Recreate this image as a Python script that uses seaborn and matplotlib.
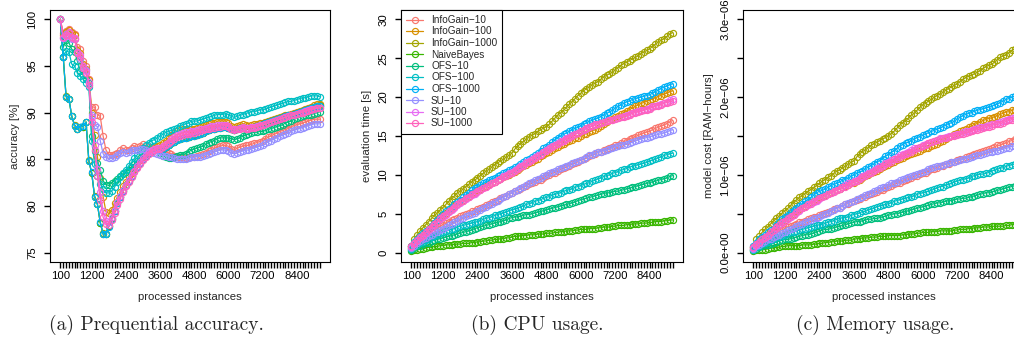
import matplotlib
matplotlib.use("Agg")
import matplotlib.pyplot as plt
import seaborn as sns
from matplotlib import font_manager as fm

# ---------------- data ----------------
X = list(range(100, 9300, 100))          # processed instances
XTICK_SHOWN = [100, 1200, 2400, 3600, 4800, 6000, 7200, 8400]

METHODS = ["InfoGain\u221210", "InfoGain\u2212100", "InfoGain\u22121000", "NaiveBayes",
           "OFS\u221210", "OFS\u2212100", "OFS\u22121000", "SU\u221210", "SU\u2212100", "SU\u22121000"]
COLORS = ["#F8766D", "#D89000", "#A3A500", "#39B600", "#00BF7D",
          "#00BFC4", "#00B0F6", "#9590FF", "#E76BF3", "#FF62BC"]

# (a) prequential accuracy [%]
ACC_IG10 = [100.0, 98.5, 98.8, 99.0, 98.6, 98.4, 97.0, 96.8, 95.5, 95.0,
            93.6, 90.6, 90.6, 89.8, 89.6, 87.5, 86.0, 85.5, 85.5, 85.6,
            85.7, 86.0, 86.2, 86.0, 86.0, 86.2, 86.4, 86.3, 86.4, 86.6,
            86.4, 86.3, 86.2, 86.2, 86.1, 86.0, 85.9, 85.8, 85.7, 85.6,
            85.4, 85.3, 85.2, 85.2, 85.1, 85.2, 85.3, 85.3, 85.4, 85.5,
            85.6, 85.7, 85.9, 86.0, 86.2, 86.3, 86.4, 86.5, 86.5, 86.4,
            86.1, 86.0, 86.2, 86.3, 86.4, 86.5, 86.5, 86.6, 86.7, 86.8,
            86.9, 87.0, 87.2, 87.4, 87.5, 87.7, 87.8, 88.0, 88.1, 88.2,
            88.3, 88.5, 88.6, 88.7, 88.8, 88.9, 89.0, 89.1, 89.2, 89.3,
            89.3, 89.3]
ACC_IG100 = [100.0, 98.3, 98.6, 98.9, 98.5, 98.3, 96.7, 96.4, 95.2, 94.7,
             93.5, 90.0, 87.6, 85.3, 83.0, 81.0, 79.4, 79.2, 79.6, 80.3,
             80.9, 81.5, 82.1, 82.6, 83.1, 83.5, 84.0, 84.5, 84.9, 85.3,
             85.7, 86.1, 86.3, 86.4, 86.4, 86.5, 86.7, 87.0, 87.3, 87.6,
             87.8, 88.0, 88.1, 88.2, 88.3, 88.3, 88.3, 88.3, 88.4, 88.5,
             88.6, 88.7, 88.8, 88.9, 88.9, 89.0, 89.0, 89.0, 89.0, 88.9,
             88.6, 88.5, 88.6, 88.7, 88.8, 88.7, 88.6, 88.7, 88.8, 88.8,
             88.9, 88.9, 89.0, 89.1, 89.2, 89.3, 89.4, 89.5, 89.6, 89.7,
             89.8, 89.9, 90.0, 90.1, 90.2, 90.3, 90.4, 90.5, 90.6, 90.8,
             90.9, 90.9]
ACC_IG1000 = [100.0, 96.0, 91.8, 91.5, 89.6, 88.7, 88.3, 88.5, 88.5, 89.0,
              84.9, 83.5, 81.1, 80.2, 78.2, 77.1, 77.0, 77.9, 78.7, 79.5,
              80.3, 81.0, 81.7, 82.2, 82.7, 83.2, 83.7, 84.2, 84.6, 85.0,
              85.4, 85.7, 85.9, 86.0, 86.1, 86.0, 86.1, 86.3, 86.5, 86.7,
              86.9, 87.1, 87.2, 87.3, 87.4, 87.4, 87.5, 87.6, 87.6, 87.7,
              87.8, 88.0, 88.1, 88.2, 88.3, 88.4, 88.5, 88.5, 88.5, 88.4,
              88.2, 88.1, 88.3, 88.4, 88.4, 88.3, 88.3, 88.4, 88.5, 88.6,
              88.7, 88.8, 88.9, 89.0, 89.1, 89.2, 89.3, 89.4, 89.5, 89.6,
              89.7, 89.8, 89.9, 90.0, 90.1, 90.2, 90.3, 90.4, 90.5, 90.6,
              90.7, 90.8]
ACC_NB = [100.0, 96.0, 91.7, 91.5, 89.6, 88.6, 88.3, 88.5, 88.5, 89.0,
          84.8, 83.5, 81.0, 80.2, 78.2, 77.0, 77.0, 77.9, 78.6, 79.5,
          80.3, 81.0, 81.6, 82.2, 82.7, 83.2, 83.7, 84.2, 84.6, 85.0,
          85.4, 85.7, 85.9, 86.0, 86.0, 86.0, 86.1, 86.3, 86.5, 86.7,
          86.9, 87.1, 87.2, 87.3, 87.3, 87.4, 87.5, 87.5, 87.6, 87.7,
          87.8, 88.0, 88.1, 88.2, 88.3, 88.4, 88.4, 88.5, 88.5, 88.4,
          88.2, 88.1, 88.3, 88.4, 88.4, 88.3, 88.3, 88.4, 88.5, 88.6,
          88.7, 88.8, 88.9, 89.0, 89.1, 89.2, 89.3, 89.4, 89.5, 89.6,
          89.7, 89.8, 89.9, 90.0, 90.1, 90.2, 90.3, 90.4, 90.5, 90.6,
          90.7, 90.7]
ACC_OFS10 = [100.0, 97.0, 97.8, 97.5, 96.8, 96.5, 95.5, 94.5, 94.0, 93.6,
             93.2, 87.5, 85.9, 84.6, 83.9, 82.7, 82.3, 82.2, 82.5, 82.7,
             82.9, 83.2, 83.4, 83.6, 83.9, 84.2, 84.5, 84.8, 85.1, 85.4,
             85.6, 85.8, 85.9, 86.0, 86.0, 85.7, 85.4, 85.2, 85.1, 85.1,
             85.2, 85.4, 85.5, 85.5, 85.6, 85.8, 86.0, 86.1, 86.2, 86.3,
             86.4, 86.6, 86.8, 86.9, 87.0, 87.2, 87.3, 87.3, 87.3, 87.3,
             87.2, 87.1, 87.2, 87.3, 87.5, 87.6, 87.7, 87.8, 87.9, 87.9,
             88.0, 88.0, 88.1, 88.2, 88.3, 88.4, 88.5, 88.6, 88.7, 88.9,
             89.0, 89.1, 89.3, 89.4, 89.5, 89.6, 89.7, 89.7, 89.8, 89.9,
             90.0, 90.1]
ACC_OFS100 = [100.0, 96.0, 96.6, 96.5, 95.2, 95.0, 94.2, 93.9, 93.6, 93.2,
              92.8, 87.0, 84.5, 83.2, 82.4, 81.8, 81.4, 81.4, 81.6, 82.0,
              82.6, 83.1, 83.5, 83.9, 84.3, 84.7, 85.1, 85.5, 85.9, 86.2,
              86.5, 86.8, 87.0, 87.1, 87.3, 87.5, 87.7, 87.9, 88.0, 88.1,
              88.2, 88.4, 88.6, 88.7, 88.8, 88.9, 89.1, 89.1, 89.1, 89.2,
              89.3, 89.4, 89.5, 89.6, 89.7, 89.8, 89.8, 89.8, 89.9, 89.8,
              89.6, 89.5, 89.6, 89.7, 89.8, 89.9, 90.0, 90.1, 90.1, 90.2,
              90.3, 90.3, 90.4, 90.5, 90.6, 90.7, 90.8, 90.9, 91.0, 91.1,
              91.2, 91.2, 91.3, 91.4, 91.5, 91.6, 91.6, 91.7, 91.8, 91.8,
              91.8, 91.7]
ACC_OFS1000 = [100.0, 96.0, 91.7, 91.5, 89.6, 88.6, 88.3, 88.5, 88.6, 89.0,
               84.8, 83.6, 81.0, 80.2, 78.3, 77.0, 77.0, 77.8, 78.6, 79.5,
               80.3, 81.0, 81.6, 82.2, 82.7, 83.2, 83.7, 84.2, 84.6, 85.0,
               85.4, 85.7, 85.9, 86.0, 86.0, 86.0, 86.1, 86.3, 86.5, 86.8,
               86.9, 87.1, 87.2, 87.3, 87.3, 87.4, 87.5, 87.5, 87.6, 87.7,
               87.8, 88.0, 88.1, 88.2, 88.3, 88.4, 88.4, 88.5, 88.5, 88.4,
               88.2, 88.1, 88.3, 88.4, 88.4, 88.3, 88.3, 88.4, 88.5, 88.6,
               88.7, 88.8, 88.9, 89.0, 89.1, 89.2, 89.3, 89.4, 89.5, 89.6,
               89.7, 89.8, 89.9, 90.0, 90.1, 90.2, 90.3, 90.4, 90.5, 90.6,
               90.7, 90.7]
ACC_SU10 = [100.0, 98.0, 98.4, 98.2, 97.9, 97.9, 96.5, 95.8, 94.8, 94.6,
            93.0, 89.8, 88.7, 88.5, 87.0, 85.6, 85.2, 85.1, 85.1, 85.3,
            85.5, 85.7, 85.8, 85.7, 85.8, 86.0, 86.0, 86.0, 86.1, 86.1,
            86.0, 85.9, 85.8, 85.7, 85.6, 85.5, 85.4, 85.4, 85.3, 85.2,
            85.1, 85.0, 85.0, 85.0, 85.0, 85.1, 85.2, 85.2, 85.3, 85.3,
            85.4, 85.5, 85.6, 85.7, 85.8, 85.9, 86.0, 86.0, 86.0, 85.9,
            85.7, 85.6, 85.7, 85.8, 85.9, 86.0, 86.0, 86.1, 86.2, 86.3,
            86.4, 86.5, 86.7, 86.9, 87.0, 87.2, 87.3, 87.5, 87.6, 87.7,
            87.8, 88.0, 88.1, 88.2, 88.3, 88.4, 88.5, 88.6, 88.7, 88.8,
            88.8, 88.8]
ACC_SU100 = [100.0, 98.0, 98.2, 98.6, 98.0, 98.0, 96.5, 96.2, 95.0, 94.5,
             93.3, 89.5, 86.5, 84.0, 81.5, 79.5, 78.4, 78.3, 78.8, 79.6,
             80.4, 81.1, 81.7, 82.3, 82.8, 83.3, 83.8, 84.3, 84.7, 85.1,
             85.5, 85.8, 86.0, 86.1, 86.2, 86.2, 86.4, 86.6, 86.9, 87.2,
             87.4, 87.6, 87.7, 87.8, 87.9, 87.9, 88.0, 88.0, 88.1, 88.2,
             88.3, 88.4, 88.5, 88.6, 88.6, 88.7, 88.7, 88.7, 88.7, 88.6,
             88.3, 88.2, 88.3, 88.4, 88.5, 88.4, 88.4, 88.5, 88.5, 88.6,
             88.7, 88.7, 88.8, 88.9, 89.0, 89.1, 89.2, 89.3, 89.4, 89.5,
             89.6, 89.7, 89.8, 89.9, 90.0, 90.1, 90.2, 90.3, 90.4, 90.4,
             90.5, 90.5]
ACC_SU1000 = [100.0, 98.1, 98.3, 98.5, 98.1, 97.9, 96.4, 96.0, 94.8, 94.3,
              93.0, 89.0, 86.0, 83.2, 80.6, 78.8, 78.1, 78.0, 78.5, 79.3,
              80.1, 80.8, 81.5, 82.1, 82.6, 83.1, 83.6, 84.1, 84.5, 84.9,
              85.3, 85.6, 85.8, 86.0, 86.1, 86.1, 86.3, 86.5, 86.8, 87.0,
              87.2, 87.4, 87.5, 87.6, 87.7, 87.7, 87.8, 87.8, 87.9, 88.0,
              88.1, 88.2, 88.3, 88.4, 88.4, 88.5, 88.5, 88.6, 88.6, 88.5,
              88.2, 88.1, 88.2, 88.3, 88.4, 88.3, 88.3, 88.4, 88.4, 88.5,
              88.6, 88.7, 88.8, 88.9, 89.0, 89.1, 89.2, 89.3, 89.4, 89.5,
              89.6, 89.7, 89.8, 89.9, 90.0, 90.0, 90.1, 90.2, 90.3, 90.4,
              90.5, 90.5]

# (b) evaluation time [s]
TIME_IG10 = [0.6, 1.0, 1.3, 1.6, 1.9, 2.2, 2.4, 2.7, 2.9, 3.1,
             3.4, 3.6, 3.8, 4.0, 4.2, 4.3, 4.5, 4.7, 4.8, 5.0,
             5.1, 5.3, 5.4, 5.6, 5.8, 5.9, 6.1, 6.3, 6.5, 6.7,
             6.8, 7.0, 7.2, 7.3, 7.5, 7.7, 7.9, 8.0, 8.2, 8.4,
             8.6, 8.8, 8.9, 9.1, 9.3, 9.4, 9.6, 9.8, 10.0, 10.2,
             10.3, 10.5, 10.7, 10.9, 11.0, 11.2, 11.4, 11.5, 11.7, 11.9,
             12.0, 12.2, 12.4, 12.5, 12.7, 12.9, 13.0, 13.2, 13.3, 13.5,
             13.6, 13.8, 13.9, 14.1, 14.3, 14.4, 14.6, 14.8, 14.9, 15.1,
             15.2, 15.4, 15.5, 15.6, 15.8, 16.0, 16.1, 16.3, 16.4, 16.6,
             16.8, 17.0]
TIME_IG100 = [0.8, 1.2, 1.6, 2.0, 2.3, 2.6, 3.0, 3.4, 3.8, 4.1,
              4.5, 4.8, 5.1, 5.4, 5.7, 6.0, 6.3, 6.6, 6.8, 7.0,
              7.3, 7.5, 7.8, 8.0, 8.2, 8.4, 8.6, 8.8, 8.9, 9.1,
              9.3, 9.5, 9.7, 9.8, 10.0, 10.2, 10.4, 10.6, 10.9, 11.1,
              11.3, 11.5, 11.7, 11.9, 12.1, 12.4, 12.6, 12.8, 13.0, 13.2,
              13.4, 13.6, 13.8, 14.0, 14.2, 14.3, 14.5, 14.7, 14.8, 15.0,
              15.2, 15.3, 15.5, 15.7, 15.8, 16.0, 16.3, 16.5, 16.8, 17.0,
              17.2, 17.4, 17.6, 17.8, 18.0, 18.2, 18.4, 18.6, 18.8, 19.0,
              19.2, 19.3, 19.5, 19.6, 19.8, 19.9, 20.1, 20.2, 20.4, 20.5,
              20.7, 20.8]
TIME_IG1000 = [0.8, 1.8, 2.3, 2.8, 3.2, 3.6, 4.0, 4.4, 4.8, 5.1,
               5.5, 5.8, 6.2, 6.6, 6.9, 7.3, 7.7, 7.9, 8.2, 8.5,
               8.8, 9.1, 9.3, 9.6, 9.9, 10.2, 10.5, 10.7, 11.0, 11.3,
               11.5, 11.8, 12.0, 12.3, 12.5, 12.8, 13.3, 13.7, 14.0, 14.3,
               14.6, 14.9, 15.1, 15.3, 15.6, 15.8, 16.0, 16.2, 16.5, 16.9,
               17.3, 17.7, 18.0, 18.3, 18.7, 19.1, 19.4, 19.8, 20.2, 20.5,
               20.8, 21.1, 21.3, 21.6, 21.8, 22.0, 22.3, 22.6, 22.8, 23.0,
               23.2, 23.5, 23.8, 24.1, 24.3, 24.5, 24.7, 24.9, 25.1, 25.3,
               25.6, 25.8, 26.0, 26.2, 26.5, 26.8, 27.1, 27.3, 27.5, 27.8,
               28.1, 28.3]
TIME_NB = [0.2, 0.3, 0.4, 0.5, 0.5, 0.6, 0.7, 0.7, 0.8, 0.8,
           0.9, 0.9, 1.0, 1.0, 1.0, 1.1, 1.1, 1.1, 1.2, 1.2,
           1.2, 1.3, 1.3, 1.4, 1.4, 1.5, 1.5, 1.6, 1.6, 1.7,
           1.7, 1.8, 1.8, 1.9, 1.9, 2.0, 2.1, 2.1, 2.2, 2.2,
           2.2, 2.3, 2.3, 2.3, 2.4, 2.4, 2.4, 2.5, 2.5, 2.5,
           2.6, 2.6, 2.7, 2.7, 2.8, 2.8, 2.8, 2.9, 2.9, 3.0,
           3.0, 3.0, 3.1, 3.1, 3.1, 3.2, 3.2, 3.3, 3.3, 3.3,
           3.4, 3.4, 3.5, 3.5, 3.5, 3.6, 3.6, 3.7, 3.7, 3.7,
           3.8, 3.8, 3.8, 3.9, 3.9, 4.0, 4.0, 4.0, 4.1, 4.1,
           4.2, 4.2]
TIME_OFS10 = [0.4, 0.6, 0.8, 0.9, 1.1, 1.2, 1.3, 1.5, 1.6, 1.7,
              1.8, 1.9, 2.0, 2.1, 2.2, 2.3, 2.4, 2.5, 2.6, 2.7,
              2.8, 2.9, 3.1, 3.2, 3.3, 3.4, 3.5, 3.6, 3.7, 3.8,
              3.9, 4.0, 4.1, 4.2, 4.4, 4.5, 4.6, 4.6, 4.7, 4.8,
              4.9, 4.9, 5.0, 5.1, 5.2, 5.3, 5.4, 5.5, 5.6, 5.7,
              5.8, 5.9, 6.0, 6.1, 6.2, 6.3, 6.4, 6.5, 6.7, 6.8,
              6.9, 7.0, 7.1, 7.2, 7.3, 7.4, 7.5, 7.6, 7.7, 7.7,
              7.8, 7.9, 7.9, 8.0, 8.1, 8.2, 8.3, 8.4, 8.5, 8.6,
              8.7, 8.8, 8.9, 9.0, 9.1, 9.2, 9.3, 9.4, 9.5, 9.6,
              9.8, 9.9]
TIME_OFS100 = [0.5, 0.8, 1.0, 1.2, 1.4, 1.6, 1.8, 2.0, 2.2, 2.3,
               2.5, 2.6, 2.8, 2.9, 3.0, 3.1, 3.3, 3.4, 3.5, 3.6,
               3.7, 3.8, 3.9, 4.0, 4.1, 4.3, 4.4, 4.5, 4.6, 4.8,
               4.9, 5.0, 5.1, 5.2, 5.4, 5.5, 5.6, 5.7, 5.9, 6.0,
               6.2, 6.3, 6.4, 6.6, 6.7, 6.8, 7.0, 7.1, 7.2, 7.4,
               7.5, 7.6, 7.7, 7.9, 8.0, 8.1, 8.2, 8.4, 8.5, 8.6,
               8.8, 8.9, 9.0, 9.2, 9.3, 9.5, 9.6, 9.8, 9.9, 10.0,
               10.2, 10.3, 10.4, 10.6, 10.7, 10.8, 11.0, 11.1, 11.2, 11.3,
               11.4, 11.5, 11.6, 11.8, 11.9, 12.0, 12.2, 12.3, 12.5, 12.6,
               12.7, 12.8]
TIME_OFS1000 = [0.9, 1.4, 1.8, 2.2, 2.5, 2.8, 3.1, 3.4, 3.8, 4.2,
                4.6, 5.0, 5.3, 5.6, 5.9, 6.2, 6.5, 6.8, 7.1, 7.4,
                7.7, 8.0, 8.3, 8.5, 8.7, 8.9, 9.1, 9.3, 9.5, 9.6,
                9.8, 10.0, 10.2, 10.4, 10.6, 10.8, 11.0, 11.2, 11.4, 11.7,
                11.9, 12.1, 12.3, 12.6, 12.8, 13.1, 13.4, 13.6, 13.9, 14.2,
                14.5, 14.8, 15.0, 15.2, 15.4, 15.6, 15.8, 16.0, 16.1, 16.3,
                16.5, 16.7, 16.9, 17.0, 17.2, 17.3, 17.5, 17.7, 17.9, 18.1,
                18.3, 18.6, 18.8, 19.0, 19.2, 19.4, 19.5, 19.7, 19.8, 19.9,
                20.0, 20.1, 20.2, 20.3, 20.5, 20.7, 20.9, 21.1, 21.3, 21.4,
                21.6, 21.7]
TIME_SU10 = [0.6, 0.9, 1.2, 1.5, 1.7, 1.9, 2.1, 2.3, 2.5, 2.7,
             2.9, 3.1, 3.3, 3.5, 3.7, 3.9, 4.1, 4.3, 4.5, 4.7,
             4.8, 5.0, 5.1, 5.3, 5.5, 5.7, 5.9, 6.1, 6.3, 6.5,
             6.7, 6.9, 7.1, 7.3, 7.5, 7.7, 7.9, 8.1, 8.3, 8.5,
             8.7, 8.9, 9.1, 9.3, 9.5, 9.6, 9.8, 10.0, 10.2, 10.4,
             10.5, 10.7, 10.9, 11.0, 11.2, 11.3, 11.5, 11.6, 11.8, 11.9,
             12.1, 12.3, 12.5, 12.6, 12.8, 12.9, 13.0, 13.1, 13.2, 13.3,
             13.5, 13.6, 13.7, 13.8, 13.9, 14.0, 14.1, 14.2, 14.4, 14.5,
             14.6, 14.7, 14.8, 14.9, 15.0, 15.1, 15.2, 15.3, 15.4, 15.5,
             15.7, 15.8]
TIME_SU100 = [0.7, 1.1, 1.5, 1.9, 2.2, 2.5, 2.9, 3.3, 3.6, 3.9,
              4.3, 4.6, 4.9, 5.2, 5.5, 5.8, 6.1, 6.4, 6.7, 6.9,
              7.2, 7.4, 7.6, 7.8, 8.0, 8.3, 8.5, 8.7, 8.9, 9.1,
              9.3, 9.5, 9.8, 10.0, 10.2, 10.4, 10.6, 10.9, 11.1, 11.3,
              11.6, 11.8, 12.0, 12.3, 12.5, 12.7, 13.0, 13.2, 13.4, 13.7,
              13.9, 14.1, 14.3, 14.5, 14.7, 14.9, 15.1, 15.3, 15.4, 15.6,
              15.8, 15.9, 16.1, 16.3, 16.4, 16.6, 16.7, 16.8, 16.9, 17.0,
              17.1, 17.2, 17.3, 17.5, 17.6, 17.7, 17.8, 18.0, 18.1, 18.2,
              18.3, 18.4, 18.5, 18.6, 18.8, 18.9, 19.0, 19.1, 19.3, 19.4,
              19.6, 19.7]
TIME_SU1000 = [0.8, 1.2, 1.6, 2.0, 2.3, 2.6, 3.0, 3.3, 3.7, 4.0,
               4.4, 4.7, 5.0, 5.3, 5.6, 5.9, 6.2, 6.5, 6.7, 7.0,
               7.2, 7.5, 7.7, 7.9, 8.1, 8.3, 8.5, 8.7, 8.9, 9.1,
               9.3, 9.5, 9.7, 9.9, 10.1, 10.3, 10.5, 10.8, 11.0, 11.2,
               11.5, 11.7, 11.9, 12.2, 12.4, 12.6, 12.9, 13.1, 13.3, 13.6,
               13.8, 14.0, 14.2, 14.4, 14.6, 14.8, 15.0, 15.2, 15.4, 15.6,
               15.8, 16.0, 16.1, 16.3, 16.5, 16.6, 16.7, 16.8, 16.9, 17.0,
               17.1, 17.2, 17.3, 17.4, 17.5, 17.6, 17.7, 17.9, 18.0, 18.1,
               18.2, 18.3, 18.4, 18.5, 18.7, 18.8, 18.9, 19.0, 19.2, 19.3,
               19.4, 19.5]

# (c) model cost [RAM-hours], in units of 1e-6
MEM_IG10 = [0.05, 0.09, 0.11, 0.14, 0.16, 0.19, 0.21, 0.23, 0.25, 0.27,
            0.29, 0.31, 0.33, 0.34, 0.36, 0.37, 0.39, 0.40, 0.41, 0.43,
            0.44, 0.46, 0.46, 0.48, 0.50, 0.51, 0.52, 0.54, 0.56, 0.58,
            0.58, 0.60, 0.62, 0.63, 0.65, 0.66, 0.68, 0.69, 0.71, 0.72,
            0.74, 0.76, 0.77, 0.78, 0.80, 0.81, 0.83, 0.84, 0.86, 0.88,
            0.89, 0.90, 0.92, 0.94, 0.95, 0.96, 0.98, 0.99, 1.01, 1.02,
            1.03, 1.05, 1.07, 1.08, 1.09, 1.11, 1.12, 1.14, 1.14, 1.16,
            1.17, 1.19, 1.20, 1.21, 1.23, 1.24, 1.26, 1.27, 1.28, 1.30,
            1.31, 1.32, 1.33, 1.34, 1.36, 1.38, 1.38, 1.40, 1.41, 1.43,
            1.44, 1.46]
MEM_IG100 = [0.07, 0.11, 0.14, 0.18, 0.20, 0.23, 0.27, 0.30, 0.34, 0.36,
             0.40, 0.42, 0.45, 0.48, 0.50, 0.53, 0.56, 0.58, 0.60, 0.62,
             0.65, 0.66, 0.69, 0.71, 0.73, 0.74, 0.76, 0.78, 0.79, 0.81,
             0.82, 0.84, 0.86, 0.87, 0.89, 0.90, 0.92, 0.94, 0.96, 0.98,
             1.00, 1.02, 1.04, 1.05, 1.07, 1.10, 1.12, 1.13, 1.15, 1.17,
             1.19, 1.20, 1.22, 1.24, 1.26, 1.27, 1.28, 1.30, 1.31, 1.33,
             1.35, 1.35, 1.37, 1.39, 1.40, 1.42, 1.44, 1.46, 1.49, 1.50,
             1.52, 1.54, 1.56, 1.58, 1.59, 1.61, 1.63, 1.65, 1.66, 1.68,
             1.70, 1.71, 1.73, 1.73, 1.75, 1.76, 1.78, 1.79, 1.81, 1.81,
             1.83, 1.84]
MEM_IG1000 = [0.07, 0.17, 0.21, 0.26, 0.30, 0.33, 0.37, 0.41, 0.44, 0.47,
              0.51, 0.54, 0.57, 0.61, 0.64, 0.68, 0.71, 0.73, 0.76, 0.79,
              0.81, 0.84, 0.86, 0.89, 0.92, 0.94, 0.97, 0.99, 1.02, 1.05,
              1.06, 1.09, 1.11, 1.14, 1.16, 1.18, 1.23, 1.27, 1.30, 1.32,
              1.35, 1.38, 1.40, 1.42, 1.44, 1.46, 1.48, 1.50, 1.53, 1.56,
              1.60, 1.64, 1.67, 1.69, 1.73, 1.77, 1.79, 1.83, 1.87, 1.90,
              1.92, 1.95, 1.97, 2.00, 2.02, 2.04, 2.06, 2.09, 2.11, 2.13,
              2.15, 2.17, 2.20, 2.23, 2.25, 2.27, 2.28, 2.30, 2.32, 2.34,
              2.37, 2.39, 2.41, 2.42, 2.45, 2.48, 2.51, 2.53, 2.54, 2.57,
              2.60, 2.62]
MEM_NB = [0.02, 0.03, 0.03, 0.04, 0.04, 0.05, 0.06, 0.06, 0.07, 0.07,
          0.08, 0.08, 0.09, 0.09, 0.09, 0.09, 0.09, 0.10, 0.10, 0.10,
          0.10, 0.11, 0.11, 0.12, 0.12, 0.13, 0.13, 0.14, 0.14, 0.15,
          0.15, 0.15, 0.16, 0.16, 0.16, 0.17, 0.18, 0.18, 0.19, 0.19,
          0.19, 0.20, 0.20, 0.20, 0.21, 0.21, 0.21, 0.22, 0.22, 0.22,
          0.22, 0.22, 0.23, 0.23, 0.24, 0.24, 0.24, 0.25, 0.25, 0.26,
          0.26, 0.26, 0.27, 0.27, 0.27, 0.28, 0.28, 0.28, 0.28, 0.28,
          0.29, 0.29, 0.30, 0.30, 0.30, 0.31, 0.31, 0.32, 0.32, 0.32,
          0.33, 0.33, 0.33, 0.34, 0.34, 0.34, 0.34, 0.34, 0.35, 0.35,
          0.36, 0.36]
MEM_OFS10 = [0.03, 0.05, 0.07, 0.08, 0.10, 0.10, 0.11, 0.13, 0.14, 0.15,
             0.16, 0.17, 0.17, 0.18, 0.19, 0.20, 0.21, 0.22, 0.23, 0.23,
             0.24, 0.25, 0.27, 0.28, 0.29, 0.30, 0.30, 0.31, 0.32, 0.33,
             0.34, 0.35, 0.36, 0.37, 0.38, 0.39, 0.40, 0.40, 0.41, 0.42,
             0.43, 0.43, 0.44, 0.44, 0.45, 0.46, 0.47, 0.48, 0.49, 0.50,
             0.50, 0.51, 0.52, 0.53, 0.54, 0.55, 0.56, 0.57, 0.58, 0.59,
             0.60, 0.61, 0.62, 0.63, 0.64, 0.64, 0.65, 0.66, 0.67, 0.67,
             0.68, 0.69, 0.69, 0.70, 0.70, 0.71, 0.72, 0.73, 0.74, 0.75,
             0.76, 0.77, 0.77, 0.78, 0.79, 0.80, 0.81, 0.82, 0.83, 0.84,
             0.85, 0.86]
MEM_OFS100 = [0.04, 0.07, 0.09, 0.11, 0.12, 0.14, 0.16, 0.18, 0.20, 0.20,
              0.22, 0.23, 0.25, 0.26, 0.27, 0.28, 0.29, 0.30, 0.31, 0.32,
              0.33, 0.34, 0.35, 0.36, 0.36, 0.38, 0.39, 0.40, 0.41, 0.43,
              0.44, 0.45, 0.45, 0.46, 0.48, 0.49, 0.50, 0.51, 0.53, 0.53,
              0.55, 0.56, 0.57, 0.59, 0.60, 0.61, 0.62, 0.63, 0.64, 0.66,
              0.67, 0.68, 0.69, 0.70, 0.71, 0.72, 0.73, 0.75, 0.76, 0.77,
              0.78, 0.79, 0.80, 0.82, 0.83, 0.85, 0.85, 0.87, 0.88, 0.89,
              0.91, 0.92, 0.93, 0.94, 0.95, 0.96, 0.98, 0.99, 1.00, 1.01,
              1.01, 1.02, 1.03, 1.05, 1.06, 1.07, 1.09, 1.09, 1.11, 1.12,
              1.13, 1.14]
MEM_OFS1000 = [0.08, 0.13, 0.17, 0.20, 0.23, 0.26, 0.29, 0.31, 0.35, 0.39,
               0.43, 0.46, 0.49, 0.52, 0.55, 0.57, 0.60, 0.63, 0.66, 0.68,
               0.71, 0.74, 0.77, 0.79, 0.80, 0.82, 0.84, 0.86, 0.88, 0.89,
               0.91, 0.93, 0.94, 0.96, 0.98, 1.00, 1.02, 1.04, 1.05, 1.08,
               1.10, 1.12, 1.14, 1.17, 1.18, 1.21, 1.24, 1.26, 1.29, 1.31,
               1.34, 1.37, 1.39, 1.41, 1.42, 1.44, 1.46, 1.48, 1.49, 1.51,
               1.53, 1.54, 1.56, 1.57, 1.59, 1.60, 1.62, 1.64, 1.66, 1.67,
               1.69, 1.72, 1.74, 1.76, 1.78, 1.79, 1.80, 1.82, 1.83, 1.84,
               1.85, 1.86, 1.87, 1.88, 1.90, 1.91, 1.93, 1.95, 1.97, 1.98,
               2.00, 2.01]
MEM_SU10 = [0.05, 0.08, 0.10, 0.13, 0.15, 0.17, 0.18, 0.20, 0.22, 0.23,
            0.25, 0.27, 0.29, 0.30, 0.32, 0.34, 0.36, 0.37, 0.39, 0.41,
            0.42, 0.44, 0.44, 0.46, 0.48, 0.50, 0.51, 0.53, 0.55, 0.57,
            0.58, 0.60, 0.62, 0.64, 0.65, 0.67, 0.69, 0.70, 0.72, 0.74,
            0.76, 0.77, 0.79, 0.81, 0.83, 0.84, 0.85, 0.87, 0.89, 0.90,
            0.91, 0.93, 0.95, 0.96, 0.97, 0.98, 1.00, 1.01, 1.03, 1.04,
            1.05, 1.07, 1.09, 1.10, 1.11, 1.12, 1.13, 1.14, 1.15, 1.16,
            1.17, 1.18, 1.19, 1.20, 1.21, 1.22, 1.23, 1.24, 1.25, 1.26,
            1.27, 1.28, 1.29, 1.30, 1.31, 1.31, 1.32, 1.33, 1.34, 1.35,
            1.37, 1.37]
MEM_SU100 = [0.06, 0.10, 0.13, 0.17, 0.19, 0.22, 0.26, 0.29, 0.32, 0.35,
             0.38, 0.41, 0.43, 0.46, 0.49, 0.51, 0.54, 0.57, 0.59, 0.61,
             0.64, 0.65, 0.67, 0.69, 0.71, 0.73, 0.75, 0.77, 0.79, 0.81,
             0.82, 0.84, 0.87, 0.89, 0.90, 0.92, 0.94, 0.96, 0.98, 1.00,
             1.03, 1.04, 1.06, 1.09, 1.11, 1.12, 1.15, 1.17, 1.19, 1.21,
             1.23, 1.25, 1.27, 1.28, 1.30, 1.32, 1.34, 1.35, 1.36, 1.38,
             1.40, 1.41, 1.42, 1.44, 1.45, 1.47, 1.48, 1.49, 1.50, 1.50,
             1.51, 1.52, 1.53, 1.55, 1.56, 1.57, 1.58, 1.59, 1.60, 1.61,
             1.62, 1.63, 1.64, 1.65, 1.66, 1.67, 1.68, 1.69, 1.71, 1.72,
             1.73, 1.74]
MEM_SU1000 = [0.07, 0.11, 0.14, 0.18, 0.20, 0.23, 0.26, 0.29, 0.33, 0.35,
              0.39, 0.41, 0.44, 0.47, 0.49, 0.52, 0.55, 0.57, 0.59, 0.62,
              0.63, 0.66, 0.68, 0.70, 0.71, 0.73, 0.75, 0.77, 0.78, 0.80,
              0.82, 0.84, 0.85, 0.87, 0.89, 0.91, 0.92, 0.95, 0.97, 0.99,
              1.01, 1.03, 1.05, 1.07, 1.09, 1.11, 1.14, 1.15, 1.17, 1.20,
              1.21, 1.23, 1.25, 1.27, 1.28, 1.30, 1.32, 1.34, 1.36, 1.37,
              1.39, 1.41, 1.42, 1.43, 1.45, 1.46, 1.47, 1.48, 1.49, 1.50,
              1.50, 1.51, 1.52, 1.53, 1.54, 1.55, 1.56, 1.58, 1.58, 1.59,
              1.60, 1.61, 1.62, 1.63, 1.65, 1.65, 1.66, 1.67, 1.69, 1.70,
              1.71, 1.72]

ACC = [ACC_IG10, ACC_IG100, ACC_IG1000, ACC_NB, ACC_OFS10, ACC_OFS100,
       ACC_OFS1000, ACC_SU10, ACC_SU100, ACC_SU1000]
TIME = [TIME_IG10, TIME_IG100, TIME_IG1000, TIME_NB, TIME_OFS10, TIME_OFS100,
        TIME_OFS1000, TIME_SU10, TIME_SU100, TIME_SU1000]
MEM = [MEM_IG10, MEM_IG100, MEM_IG1000, MEM_NB, MEM_OFS10, MEM_OFS100,
       MEM_OFS1000, MEM_SU10, MEM_SU100, MEM_SU1000]

# ---------------- style ----------------
sns.set_style("ticks")
names = {f.name for f in fm.fontManager.ttflist}
if "Liberation Sans Narrow" in names:
    SANS, FS, LFS = "Liberation Sans Narrow", 9.6, 8.4
else:
    SANS, FS, LFS = "Liberation Sans", 8.2, 7.2
plt.rcParams["font.family"] = [SANS, "DejaVu Sans"]
TICK_LEN, TICK_W = 4.5, 1.0
plt.rcParams.update({
    "axes.linewidth": 0.8, "axes.edgecolor": "black",
    "xtick.bottom": True, "ytick.left": True,
    "xtick.top": False, "ytick.right": False,
    "xtick.direction": "out", "ytick.direction": "out",
    "xtick.major.size": TICK_LEN, "ytick.major.size": TICK_LEN,
    "xtick.major.width": TICK_W, "ytick.major.width": TICK_W,
    "xtick.color": "black", "ytick.color": "black",
})

W, H = 1014, 346
fig = plt.figure(figsize=(W / 100, H / 100), dpi=100)


def add_axes(left_px, right_px, top_px=10, bottom_px=262):
    return fig.add_axes([left_px / W, 1 - bottom_px / H,
                         (right_px - left_px) / W, (bottom_px - top_px) / H])


def draw_panel(ax, series, scale=1.0):
    for name, color, vals in zip(METHODS, COLORS, series):
        sns.lineplot(x=X[:len(vals)], y=[v * scale for v in vals], ax=ax,
                     color=color, linewidth=0.9, marker="o", markersize=4.4,
                     markerfacecolor="none", markeredgecolor=color,
                     markeredgewidth=0.85, label=name, legend=False,
                     estimator=None, errorbar=None, sort=False)
    span = X[-1] - X[0]
    ax.set_xlim(X[0] - 0.04 * span, X[-1] + 0.04 * span)
    ax.set_xticks(X)
    ax.set_xticklabels([str(x) if x in XTICK_SHOWN else "" for x in X])
    ax.tick_params(axis="both", which="major", direction="out", length=TICK_LEN,
                   width=TICK_W, color="black", labelsize=FS, labelcolor="black",
                   bottom=True, left=True, top=False, right=False)
    ax.tick_params(axis="x", pad=2.0)
    ax.tick_params(axis="y", pad=4.5)
    for s in ax.spines.values():
        s.set_visible(True)
        s.set_color("black")
        s.set_linewidth(0.8)
    ax.set_xlabel("processed instances", fontsize=FS, va="center")
    ax.xaxis.set_label_coords(0.5, (262 - 297) / 252)
    ax.grid(False)


def rotate_y(ax):
    for t in ax.get_yticklabels():
        t.set_rotation(90)
        t.set_va("center")
        t.set_ha("right")


# (a)
axa = add_axes(50, 330)
draw_panel(axa, ACC)
axa.set_ylim(75 - 1, 100 + 1)
axa.set_yticks([75, 80, 85, 90, 95, 100])
axa.set_yticklabels(["75", "80", "85", "90", "95", "100"])
rotate_y(axa)
axa.set_ylabel("accuracy [%]", fontsize=FS, va="center")
axa.yaxis.set_label_coords((15 - 50) / 280, 0.5)

# (b)
axb = add_axes(401, 683)
draw_panel(axb, TIME)
axb.set_ylim(-1.2, 31.2)
axb.set_yticks([0, 5, 10, 15, 20, 25, 30])
axb.set_yticklabels(["0", "5", "10", "15", "20", "25", "30"])
rotate_y(axb)
axb.set_ylabel("evaluation time [s]", fontsize=FS, va="center")
axb.yaxis.set_label_coords((367 - 401) / 282, 0.5)
leg = axb.legend(loc="upper left", bbox_to_anchor=(0, 1), borderaxespad=0,
                 fontsize=LFS, frameon=True, fancybox=False, framealpha=1,
                 edgecolor="black", handlelength=1.7, handletextpad=0.8,
                 labelspacing=0.15, borderpad=0.5)
leg.get_frame().set_linewidth(0.8)

# (c)
axc = add_axes(743, 1025)
draw_panel(axc, MEM, scale=1e-6)
axc.set_ylim(-0.12e-6, 3.12e-6)
axc.set_yticks([0, 0.5e-6, 1.0e-6, 1.5e-6, 2.0e-6, 2.5e-6, 3.0e-6])
axc.set_yticklabels(["0.0e+00", "", "1.0e\u221206", "", "2.0e\u221206", "", "3.0e\u221206"])
rotate_y(axc)
axc.set_ylabel("model cost [RAM\u2212hours]", fontsize=FS, va="center")
axc.yaxis.set_label_coords((709 - 743) / 282, 0.5)

# captions
CAPTIONS = ["(a) Prequential accuracy.", "(b) CPU usage.", "(c) Memory usage."]
CAP_X = [156, 537, 875]
for cx, cap in zip(CAP_X, CAPTIONS):
    fig.text(cx / W, 1 - 325 / H, cap, ha="center", va="center",
             fontsize=14, family="cmr10")

fig.savefig("out.png", dpi=100)
